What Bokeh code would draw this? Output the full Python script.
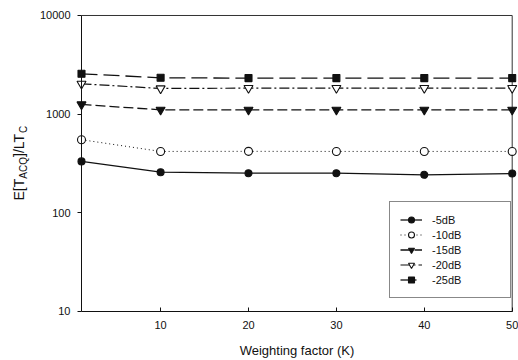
import math
from bokeh.plotting import figure
from bokeh.models import Range1d, FixedTicker, NumeralTickFormatter, Label, Legend, LegendItem
from bokeh.embed import file_html
from bokeh.resources import INLINE

# ---- data ----
weighting = [1, 10, 20, 30, 40, 50]
series_names = ["-5dB", "-10dB", "-15dB", "-20dB", "-25dB"]
db5 = [332, 258, 252, 252, 243, 250]
db10 = [551, 419, 420, 419, 419, 419]
db15 = [1254, 1107, 1107, 1107, 1107, 1107]
db20 = [2032, 1822, 1835, 1835, 1835, 1835]
db25 = [2566, 2336, 2320, 2320, 2320, 2320]
x_ticks = [10, 20, 30, 40, 50]
y_ticks = [10, 100, 1000, 10000]
x_min, x_max = 1, 50
y_min, y_max = 10, 10000

FONT = "Liberation Sans"
INK = "#111111"

# the frame fills the canvas; axes are pinned at x=1 and y=10
p = figure(width=518, height=360,
           x_range=Range1d(-8.215, 50.717),
           y_range=Range1d(3.186, 14191),
           y_axis_type="log", output_backend="svg", toolbar_location=None,
           min_border_left=0, min_border_right=0, min_border_top=0, min_border_bottom=0)
p.outline_line_color = None
p.grid.visible = False
p.background_fill_color = "white"
p.border_fill_color = "white"

xa = p.xaxis[0]
xa.ticker = FixedTicker(ticks=x_ticks)
xa.fixed_location = y_min
xa.bounds = (x_min, x_max)
xa.major_tick_in = 4
xa.major_tick_out = 0
xa.minor_tick_line_color = None
xa.major_label_standoff = 10
xa.major_label_text_font = FONT
xa.major_label_text_font_size = "11px"
xa.major_label_text_color = INK
xa.axis_line_color = INK
xa.major_tick_line_color = INK
xa.axis_label = "Weighting factor (K)"
xa.axis_label_standoff = 10
xa.axis_label_text_font = FONT
xa.axis_label_text_font_size = "13px"
xa.axis_label_text_font_style = "normal"
xa.axis_label_text_color = INK

ya = p.yaxis[0]
ya.ticker = FixedTicker(ticks=y_ticks)
ya.formatter = NumeralTickFormatter(format="0")
ya.fixed_location = x_min
ya.bounds = (y_min, y_max)
ya.major_tick_in = 0
ya.major_tick_out = 4
ya.minor_tick_line_color = None
ya.major_label_standoff = 7
ya.major_label_text_font = FONT
ya.major_label_text_font_size = "11px"
ya.major_label_text_color = INK
ya.axis_line_color = INK
ya.major_tick_line_color = INK

# top and right frame lines
p.segment(x0=[x_min, x_max], y0=[y_max, y_min], x1=[x_max, x_max], y1=[y_max, y_max],
          line_color="#333333", line_width=1)

series = [db5, db10, db15, db20, db25]
dashes = ["solid", "1 3", "10 4", "10 3 2 3", "16 6"]
markers = ["circle", "circle", "inverted_triangle", "inverted_triangle", "square"]
fills = [INK, "white", INK, "white", INK]
sizes = [7, 8, 9, 9, 7]
widths = [1.3, 1.0, 1.3, 1.2, 1.3]

items = []
for name, vals, d, m, f, s, w in zip(series_names, series, dashes, markers, fills, sizes, widths):
    ln = p.line(weighting, vals, line_color=INK, line_width=w, line_dash=d)
    sc = p.scatter(weighting, vals, marker=m, size=s, fill_color=f, line_color=INK, line_width=1.1)
    items.append(LegendItem(label=name, renderers=[ln, sc]))

legend = Legend(items=items, location=(389, 62))
legend.border_line_color = INK
legend.border_line_width = 1
legend.background_fill_color = "white"
legend.background_fill_alpha = 1.0
legend.padding = 10
legend.spacing = 0
legend.margin = 0
legend.glyph_width = 22
legend.glyph_height = 15
legend.label_height = 15
legend.label_standoff = 10
legend.label_width = 68
legend.label_text_font = FONT
legend.label_text_font_size = "11px"
legend.label_text_color = INK
p.add_layout(legend)

# y-axis title with subscripts: E[T_ACQ]/LT_C
y_title_parts = [("E[T", 14, 18, 160), ("ACQ", 10, 23, 181.8), ("]/LT", 14, 18, 203.5), ("C", 10, 23, 227.6)]
for txt, fs, xx, yy in y_title_parts:
    p.add_layout(Label(x=xx, y=yy, x_units="screen", y_units="screen", text=txt, angle=math.pi / 2,
                       text_align="left", text_baseline="alphabetic", text_font=FONT,
                       text_font_size=f"{fs}px", text_color=INK))

open("out.html", "w").write(file_html(p, INLINE))
